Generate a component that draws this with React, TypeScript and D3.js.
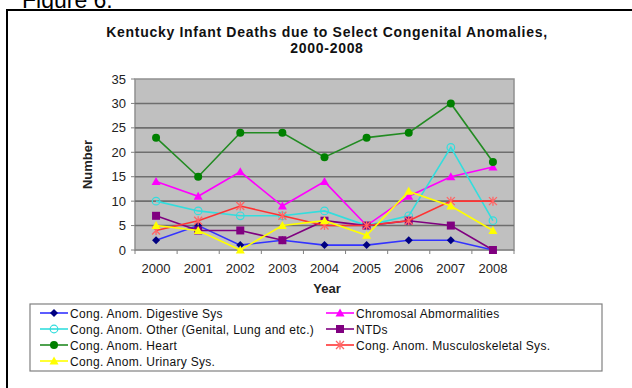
import React from "react";
import * as d3 from "d3";

const years = ["2000", "2001", "2002", "2003", "2004", "2005", "2006", "2007", "2008"];
const yTicks = [0, 5, 10, 15, 20, 25, 30, 35];

const digestive = [2, 5, 1, 2, 1, 1, 2, 2, 0];
const chromosomal = [14, 11, 16, 9, 14, 5, 11, 15, 17];
const other = [10, 8, 7, 7, 8, 5, 7, 21, 6];
const ntds = [7, 4, 4, 2, 6, 5, 6, 5, 0];
const heart = [23, 15, 24, 24, 19, 23, 24, 30, 18];
const musculo = [4, 6, 9, 7, 5, 5, 6, 10, 10];
const urinary = [5, 4, 0, 5, 6, 3, 12, 9, 4];

type Marker = "diamond" | "triangle" | "circleOpen" | "square" | "circle" | "star";

interface Series {
  name: string;
  values: number[];
  line: string;
  fill: string;
  marker: Marker;
}

const series: Series[] = [
  { name: "Cong. Anom. Digestive Sys", values: digestive, line: "#3333ff", fill: "#000080", marker: "diamond" },
  { name: "Chromosal Abmormalities", values: chromosomal, line: "#ff00ff", fill: "#ff00ff", marker: "triangle" },
  { name: "Cong. Anom. Other (Genital,  Lung and etc.)", values: other, line: "#33dddd", fill: "none", marker: "circleOpen" },
  { name: "NTDs", values: ntds, line: "#800080", fill: "#800080", marker: "square" },
  { name: "Cong. Anom. Heart", values: heart, line: "#228b22", fill: "#008000", marker: "circle" },
  { name: "Cong. Anom. Musculoskeletal Sys.", values: musculo, line: "#ff3333", fill: "#ff6666", marker: "star" },
  { name: "Cong. Anom. Urinary Sys.", values: urinary, line: "#ffff00", fill: "#ffff00", marker: "triangle" },
];

const font = "Arial, 'Liberation Sans', sans-serif";

const MarkerShape: React.FC<{ s: Series; x: number; y: number }> = ({ s, x, y }) => {
  switch (s.marker) {
    case "diamond":
      return <path d={`M${x},${y - 4}L${x + 4},${y}L${x},${y + 4}L${x - 4},${y}Z`} fill={s.fill} />;
    case "triangle":
      return <path d={`M${x},${y - 4.5}L${x + 4.5},${y + 3.5}L${x - 4.5},${y + 3.5}Z`} fill={s.fill} />;
    case "circleOpen":
      return <circle cx={x} cy={y} r={3.8} fill="none" stroke={s.line} strokeWidth={1.2} />;
    case "square":
      return <rect x={x - 4} y={y - 4} width={8} height={8} fill={s.fill} />;
    case "circle":
      return <circle cx={x} cy={y} r={4} fill={s.fill} />;
    case "star":
      return (
        <path
          d={`M${x - 4},${y - 4}L${x + 4},${y + 4}M${x + 4},${y - 4}L${x - 4},${y + 4}M${x},${y - 4.5}L${x},${y + 4.5}`}
          stroke={s.fill}
          strokeWidth={1.3}
        />
      );
  }
  return null;
};

export default function App() {
  const width = 632;
  const height = 388;
  const plot = { left: 135, right: 514, top: 79, bottom: 250 };

  const x = d3.scaleBand<string>().domain(years).range([plot.left, plot.right]);
  const y = d3.scaleLinear().domain([0, 35]).range([plot.bottom, plot.top]);
  const cx = (yr: string) => (x(yr) ?? 0) + x.bandwidth() / 2;

  const line = (vals: number[]) =>
    d3
      .line<number>()
      .x((_, i) => cx(years[i]))
      .y((v) => y(v))(vals) ?? "";

  const legendRows = [
    [series[0], series[1]],
    [series[2], series[3]],
    [series[4], series[5]],
    [series[6]],
  ];
  const legendCols = [40, 326];

  return (
    <svg
      width={width}
      height={height}
      style={{ position: "absolute", left: 0, top: 0, background: "white" }}
      fontFamily={font}
    >
      <text x={22} y={8} fontSize={23} fill="#000">
        Figure 6:
      </text>
      <rect x={7} y={10} width={640} height={400} fill="white" stroke="#000" strokeWidth={2} />

      <text x={327} y={37} textAnchor="middle" fontSize={14} fontWeight="bold" letterSpacing={0.7} fill="#111">
        Kentucky Infant Deaths due to Select Congenital Anomalies,
      </text>
      <text x={327} y={53} textAnchor="middle" fontSize={14} fontWeight="bold" letterSpacing={0.7} fill="#111">
        2000-2008
      </text>

      <rect
        x={plot.left}
        y={plot.top}
        width={plot.right - plot.left}
        height={plot.bottom - plot.top}
        fill="#c0c0c0"
        stroke="#909090"
        strokeWidth={1.5}
      />
      {yTicks.slice(1, -1).map((t) => (
        <line key={t} x1={plot.left} x2={plot.right} y1={y(t)} y2={y(t)} stroke="#6e6e6e" strokeWidth={1.6} />
      ))}
      <line x1={plot.left} x2={plot.right} y1={plot.bottom} y2={plot.bottom} stroke="#808080" strokeWidth={1.2} />
      {yTicks.map((t) => (
        <g key={`yt-${t}`}>
          <line x1={plot.left - 4} x2={plot.left} y1={y(t)} y2={y(t)} stroke="#808080" />
          <text x={plot.left - 9} y={y(t) + 4.5} textAnchor="end" fontSize={13} fill="#222">
            {t}
          </text>
        </g>
      ))}
      {years.map((yr) => (
        <line
          key={`xt-${yr}`}
          x1={x(yr) ?? 0}
          x2={x(yr) ?? 0}
          y1={plot.bottom}
          y2={plot.bottom + 4}
          stroke="#808080"
        />
      ))}
      <line x1={plot.right} x2={plot.right} y1={plot.bottom} y2={plot.bottom + 4} stroke="#808080" />
      {years.map((yr) => (
        <text key={`xl-${yr}`} x={cx(yr)} y={273} textAnchor="middle" fontSize={13} fill="#222">
          {yr}
        </text>
      ))}
      <text x={327} y={293} textAnchor="middle" fontSize={13} fontWeight="bold" fill="#222">
        Year
      </text>
      <text
        transform={`translate(92, ${(plot.top + plot.bottom) / 2}) rotate(-90)`}
        textAnchor="middle"
        fontSize={13}
        fontWeight="bold"
        fill="#222"
      >
        Number
      </text>

      {series.map((s) => (
        <g key={s.name}>
          <path d={line(s.values)} fill="none" stroke={s.line} strokeWidth={1.6} />
          {s.values.map((v, i) => (
            <MarkerShape key={i} s={s} x={cx(years[i])} y={y(v)} />
          ))}
        </g>
      ))}

      <rect x={30} y={304} width={572} height={67} fill="white" stroke="#808080" strokeWidth={1.2} />
      {legendRows.map((row, r) =>
        row.map((s, c) => {
          const lx = legendCols[c];
          const ly = 313 + r * 16;
          return (
            <g key={s.name}>
              <line x1={lx} x2={lx + 28} y1={ly} y2={ly} stroke={s.line} strokeWidth={1.6} />
              <MarkerShape s={s} x={lx + 14} y={ly} />
              <text x={lx + 30} y={ly + 4.5} fontSize={12} letterSpacing={0.3} fill="#111">
                {s.name}
              </text>
            </g>
          );
        })
      )}
    </svg>
  );
}
